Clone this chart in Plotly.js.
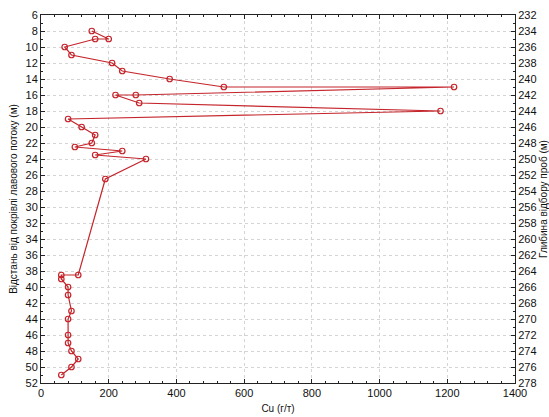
<!DOCTYPE html>
<html>
<head>
<meta charset="utf-8">
<script src="https://cdn.plot.ly/plotly-3.0.1.min.js"></script>
<style>html,body{margin:0;padding:0;background:#fff;}#chart{width:549px;height:417px;}</style>
</head>
<body>
<div id="chart"></div>
<script>
var cu = [150, 200, 160, 70, 90, 210, 240, 380, 540, 1220, 280, 220, 290, 1180, 80, 120, 160, 150, 100, 240, 160, 310, 190, 110, 60, 60, 80, 80, 90, 80, 80, 80, 90, 110, 90, 60];
var depth = [8, 9, 9, 10, 11, 12, 13, 14, 15, 15, 16, 16, 17, 18, 19, 20, 21, 22, 22.5, 23, 23.5, 24, 26.5, 38.5, 38.5, 39, 40, 41, 43, 44, 46, 47, 48, 49, 50, 51];
var leftRange = [52, 6];
var rightRange = [278, 232];
var xTitle = 'Cu (г/т)';
var yTitle = 'Відстань від покрівлі лавового потоку (м)';
var y2Title = 'Глибина відбору проб (м)';

var red = '#c4242a';
var traces = [
  {
    x: cu, y: depth, type: 'scatter', mode: 'lines+markers',
    line: {color: red, width: 1.2},
    marker: {symbol: 'circle-open', size: 5.5, color: red, line: {width: 1.2, color: red}},
    hoverinfo: 'x+y', showlegend: false
  },
  {
    x: [cu[0]], y: [rightRange[1]], yaxis: 'y2', type: 'scatter', mode: 'none',
    hoverinfo: 'skip', showlegend: false
  }
];
var fontFam = '"Liberation Sans", Arial, sans-serif';
var axCommon = {
  showline: true, linecolor: '#222', linewidth: 1,
  ticks: 'inside', ticklen: 4, tickcolor: '#222',
  showgrid: true, gridcolor: '#d4d4d4', griddash: 'dot', gridwidth: 1,
  zeroline: false,
  tickfont: {family: fontFam, size: 11, color: '#111'}
};
var layout = {
  width: 549, height: 417,
  margin: {l: 41, r: 34, t: 15, b: 34},
  paper_bgcolor: '#fff', plot_bgcolor: '#fff',
  font: {family: fontFam, color: '#111'},
  xaxis: Object.assign({}, axCommon, {
    range: [0, 1400], dtick: 200, tick0: 0, mirror: 'ticks',
    minor: {dtick: 40, ticks: 'inside', ticklen: 2, tickcolor: '#222', showgrid: false},
    title: {text: xTitle, font: {family: fontFam, size: 10}, standoff: 6}
  }),
  yaxis: Object.assign({}, axCommon, {
    range: leftRange, dtick: 2, tick0: 0,
    minor: {dtick: 1, ticks: 'inside', ticklen: 2, tickcolor: '#222', showgrid: false},
    title: {text: yTitle, font: {family: fontFam, size: 10}, standoff: 6}
  }),
  yaxis2: Object.assign({}, axCommon, {
    overlaying: 'y', side: 'right', range: rightRange, dtick: 2, tick0: 0,
    showgrid: false,
    minor: {dtick: 1, ticks: 'inside', ticklen: 2, tickcolor: '#222', showgrid: false},
    title: {text: y2Title, font: {family: fontFam, size: 10}, standoff: 4}
  })
};
Plotly.newPlot('chart', traces, layout, {displayModeBar: false, staticPlot: true});
</script>
</body>
</html>
